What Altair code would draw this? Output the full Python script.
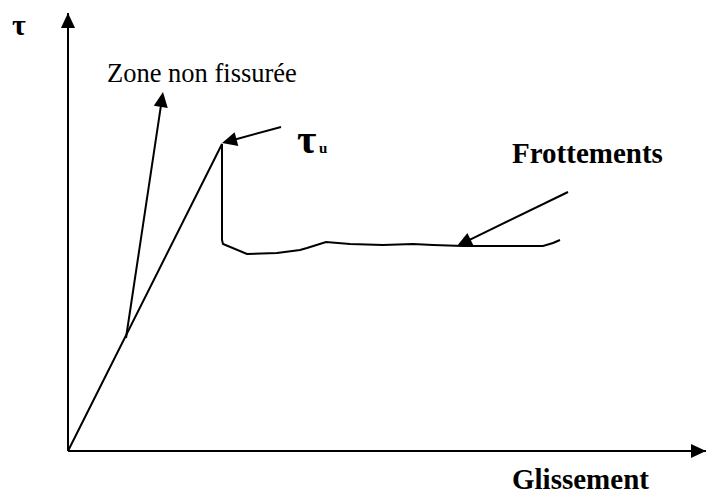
import altair as alt
import numpy as np
import pandas as pd

# Schematic units: glissement (g) to the right, tau (t) upwards, origin at the axes' corner
axis_t_g = [0, 0]
axis_t_t = [0, 438]
axis_g_g = [0, 638]
axis_g_t = [0, 0]

# loading branch, sudden drop at tau_u, then friction plateau
curve_g = [0, 154, 154, 155, 179, 209, 232, 239, 258, 282, 315, 345, 365, 395, 432, 475, 485, 492]
curve_t = [0, 307, 211, 207, 197, 198, 201, 203, 209, 207, 206, 207, 206, 205, 205, 205, 208, 211]

# leader lines (start -> arrow tip)
zone_g = [58, 95]
zone_t = [113, 359]
tauu_g = [213, 154]
tauu_t = [324, 308]
frot_g = [500, 389]
frot_t = [259, 205]

# labels
lab_tau = ("τ", -49, 416)
lab_zone = ("Zone non fissurée", 39, 369)
lab_tauu = ("τ", 229, 298)
lab_tauu_sub = ("u", 251, 298)
lab_frot = ("Frottements", 444, 288)
lab_glis = ("Glissement", 444, -38)

segments = [
    ("axe_t", axis_t_g, axis_t_t, True, False),
    ("axe_g", axis_g_g, axis_g_t, True, False),
    ("courbe", curve_g, curve_t, False, False),
    ("zone", zone_g, zone_t, True, True),
    ("tauu", tauu_g, tauu_t, True, True),
    ("frot", frot_g, frot_t, True, True),
]

rows, heads = [], []
for name, gs, ts, arrow, shorten in segments:
    gs = list(map(float, gs))
    ts = list(map(float, ts))
    if arrow:
        dg, dt = gs[-1] - gs[-2], ts[-1] - ts[-2]
        ang = float(np.degrees(np.arctan2(dg, dt)) % 360)
        heads.append({"g": gs[-1], "t": ts[-1], "angle": ang})
        if shorten:
            L = np.hypot(dg, dt)
            gs[-1] -= dg / L * 6
            ts[-1] -= dt / L * 6
    for i, (g, t) in enumerate(zip(gs, ts)):
        rows.append({"seg": name, "o": i, "g": g, "t": t})

lines_df = pd.DataFrame(rows)
heads_df = pd.DataFrame(heads)

xs = alt.X("g:Q", scale=alt.Scale(domain=[-60, 639], nice=False, zero=False), axis=None)
ys = alt.Y("t:Q", scale=alt.Scale(domain=[-44, 443], nice=False, zero=False), axis=None)

lines = alt.Chart(lines_df).mark_line(color="black", strokeWidth=2).encode(
    x=xs, y=ys, detail="seg:N", order="o:Q"
)

arrow_path = "M0,0L-0.47,1L0.47,1Z"
arrows = alt.Chart(heads_df).mark_point(
    shape=arrow_path, filled=True, color="black", opacity=1, size=900, strokeWidth=0
).encode(x=xs, y=ys, angle=alt.Angle("angle:Q", scale=None))


def label(item, size, weight, align="left"):
    txt, g, t = item
    df = pd.DataFrame([{"txt": txt, "g": g, "t": t}])
    return alt.Chart(df).mark_text(
        font="Liberation Serif", fontSize=size, fontWeight=weight,
        align=align, baseline="alphabetic", color="black"
    ).encode(x=xs, y=ys, text="txt:N")


chart = alt.layer(
    lines,
    arrows,
    label(lab_tau, 30, "bold", "center"),
    label(lab_zone, 26.5, "normal"),
    label(lab_tauu, 42, "bold"),
    label(lab_tauu_sub, 15, "bold"),
    label(lab_frot, 29, "bold"),
    label(lab_glis, 29, "bold"),
).properties(
    width=699, height=487, autosize=alt.AutoSizeParams(type="none"), padding=0,
    background="white"
).configure_view(stroke=None)

chart.save("out.html", embed_options={"renderer": "svg", "actions": False})
